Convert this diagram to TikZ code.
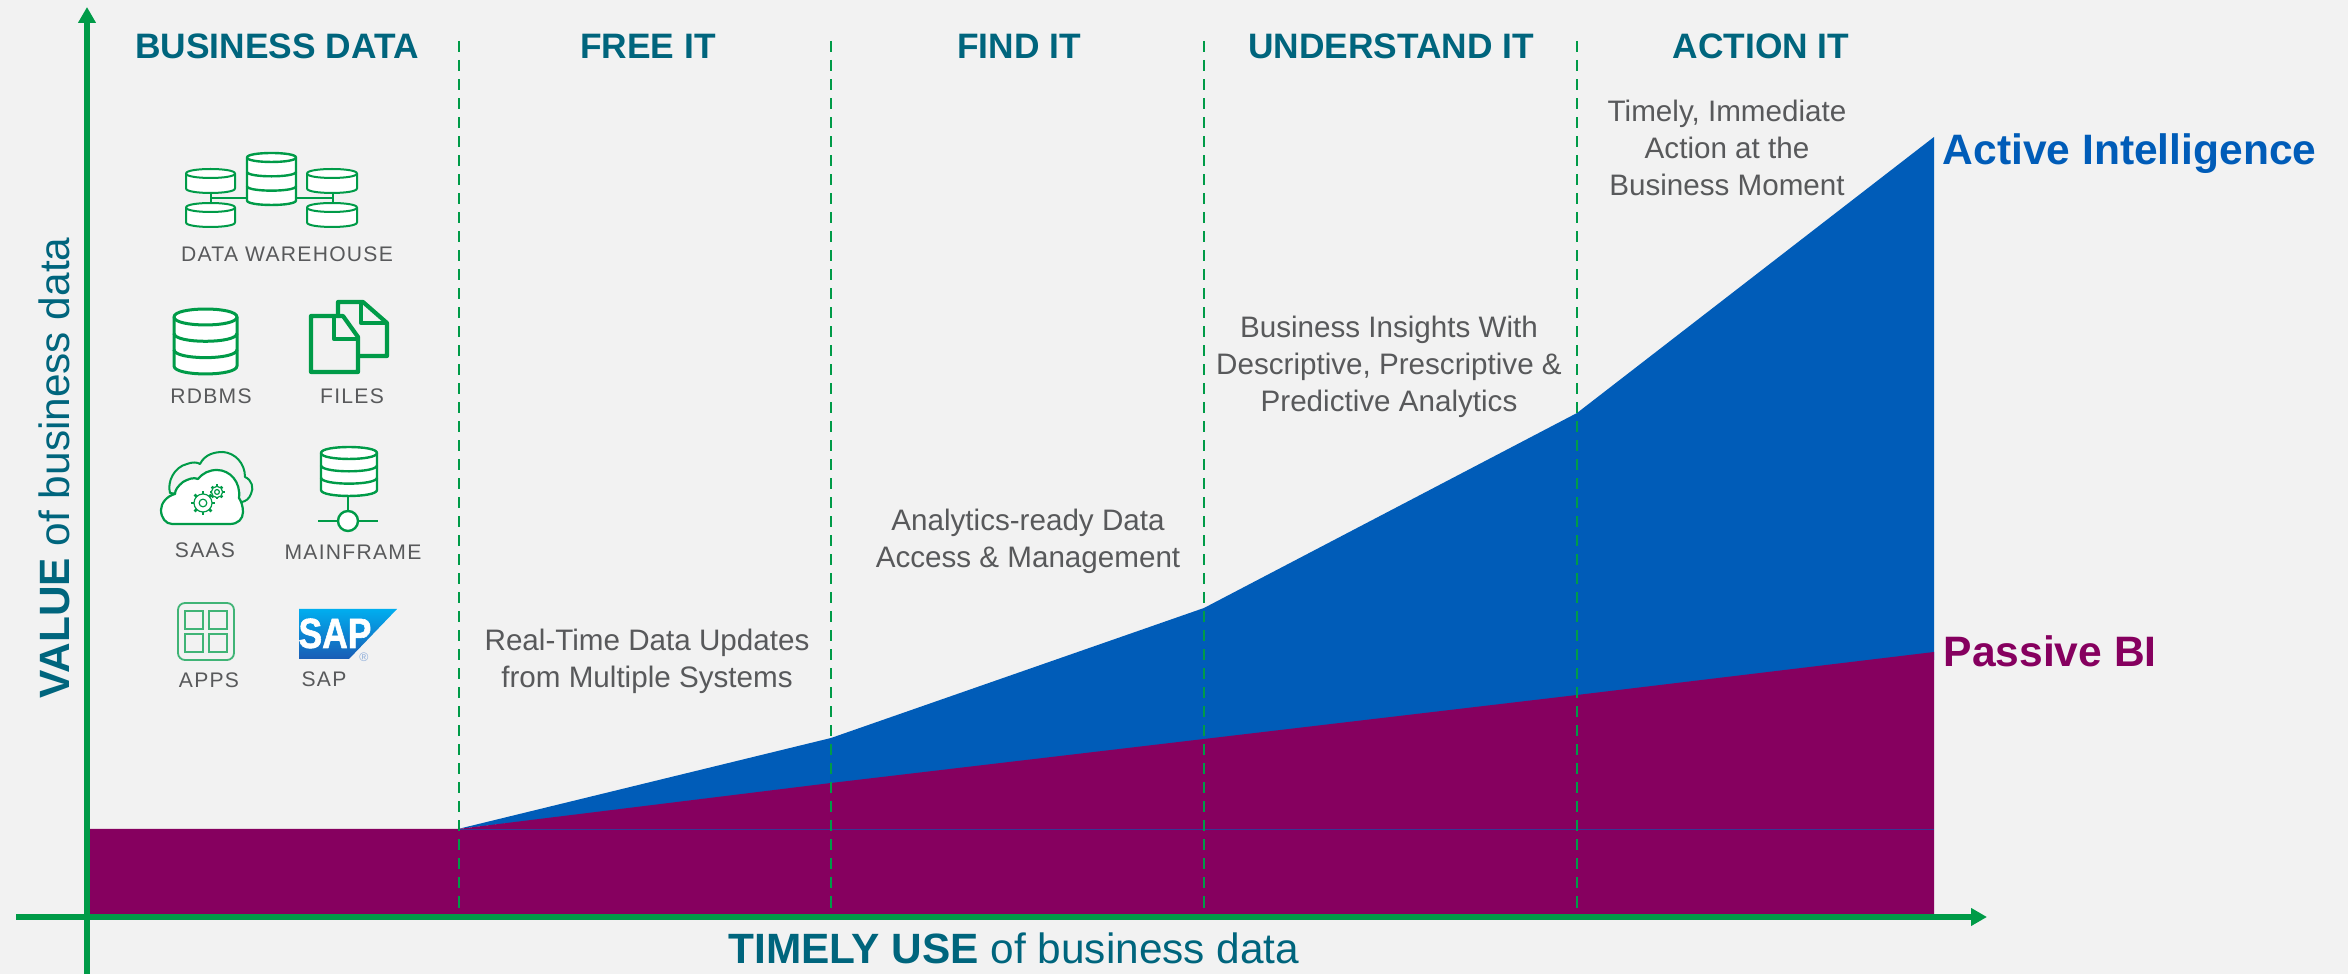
\documentclass[tikz,border=0pt]{standalone}
\usepackage{fontspec}
\usepackage{xcolor}
\usepackage{tikz}
\usetikzlibrary{arrows.meta,positioning}
\setmainfont{Liberation Sans}

\definecolor{pagebg}{HTML}{F2F2F2}
\definecolor{axisgreen}{HTML}{009B48}
\definecolor{headteal}{HTML}{00657D}
\definecolor{notegray}{HTML}{58595B}
\definecolor{activeblue}{HTML}{005CB8}
\definecolor{passivepurple}{HTML}{86005F}
\definecolor{sapcyan}{HTML}{00AEEF}
\definecolor{sapblue}{HTML}{1A5CB5}

\tikzset{
    axisline/.style={draw=axisgreen,line width=0.053cm,-{Triangle[length=0.16cm,width=0.17cm]}},
    divider/.style={draw=axisgreen,line width=0.022cm,dash pattern=on 0.11cm off 0.08cm},
    head/.style={anchor=base,inner sep=0pt,text=headteal,font=\fontsize{10.05}{12}\selectfont\bfseries},
    note/.style={inner sep=0pt,align=center,text=notegray,font=\fontsize{8.42}{10.6}\selectfont},
    iconlabel/.style={anchor=base,inner sep=0pt,text=notegray,font=\fontsize{6}{7}\selectfont\addfontfeature{LetterSpace=6}},
    axislabel/.style={anchor=base,inner sep=0pt,text=headteal,font=\fontsize{12.05}{14}\selectfont},
    legendlabel/.style={inner sep=0pt,anchor=base west,font=\fontsize{12.1}{14}\selectfont\bfseries},
    iconline/.style={draw=axisgreen,line join=round},
}

\newcommand{\dbstack}[7]{
    \pgfmathsetmacro{\yt}{#2+#5}
    \pgfmathsetmacro{\yb}{#4-#5}
    \pgfmathsetmacro{\kk}{1.33*#5}
    \pgfmathsetmacro{\stepy}{(\yb-\yt)/#6}
    \draw[iconline,line width=#7,fill=white] (#1,\yt) -- (#1,\yb) .. controls (#1,\yb+\kk) and (#3,\yb+\kk) .. (#3,\yb) -- (#3,\yt) .. controls (#3,\yt-\kk) and (#1,\yt-\kk) .. cycle;
    \draw[iconline,line width=#7] (#1,\yt) .. controls (#1,\yt+\kk) and (#3,\yt+\kk) .. (#3,\yt);
    \foreach \band in {1,...,#6} {
        \ifnum\band<#6
        \pgfmathsetmacro{\ym}{\yt+\band*\stepy}
        \draw[iconline,line width=#7] (#1,\ym) .. controls (#1,\ym+\kk) and (#3,\ym+\kk) .. (#3,\ym);
        \fi
    }
}

\newcommand{\cogwheel}[3]{
    \foreach \tooth in {0,45,...,315} {
        \draw[iconline,line width=0.025cm] (#1,#2) ++(\tooth:#3*0.72) -- ++(\tooth:#3*0.28);
    }
    \draw[iconline,line width=0.012cm,fill=white] (#1,#2) circle[radius=#3*0.0075cm];
    \draw[iconline,line width=0.012cm] (#1,#2) circle[radius=#3*0.0032cm];
}

\begin{document}
\begin{tikzpicture}[x=0.01cm,y=-0.01cm]
    \useasboundingbox (0,0) rectangle (2348,974);
    \fill[pagebg] (0,0) rectangle (2348,974);

    \fill[activeblue] (458,829) -- (831,738) -- (1204,608) -- (1577,413) -- (1934,137) -- (1934,660) -- (458,829) -- cycle;
    \fill[passivepurple] (87,829) -- (458,829) -- (831,783) -- (1204,739) -- (1577,695) -- (1934,652) -- (1934,917) -- (87,917) -- cycle;
    \draw[activeblue!60!passivepurple,line width=0.005cm] (458,829) -- (1934,829);

    \coordinate (xstart)  at (16,917);
    \coordinate (xend)    at (1987,917);
    \coordinate (ystart)  at (87,974);
    \coordinate (yend)    at (87,7);
    \draw[axisline] (xstart) -- (xend);
    \draw[axisline] (ystart) -- (yend);

    \foreach \xdiv in {459,831,1204,1577} {
        \coordinate (divtop) at (\xdiv,41);
        \coordinate (divbot) at (\xdiv,910);
        \draw[divider] (divtop) -- (divbot);
    }

    \node[head] (bizdata)    at (277,59)  {BUSINESS DATA};
    \node[head] (freeit)     at (648,59)  {FREE IT};
    \node[head] (findit)     at (1019,59) {FIND IT};
    \node[head] (understand) at (1391,59) {UNDERSTAND IT};
    \node[head] (actionit)   at (1761,59) {ACTION IT};

    \node[note] (realtime)  at (647,661)  {Real-Time Data Updates\\from Multiple Systems};
    \node[note] (analytics) at (1028,541) {Analytics-ready Data\\Access \& Management};
    \node[note] (insights)  at (1389,367) {Business Insights With\\Descriptive, Prescriptive \&\\Predictive Analytics};
    \node[note] (timely)    at (1727,148) {Timely, Immediate\\Action at the\\Business Moment};

    \coordinate (activeanchor)  at (1934,165);
    \coordinate (passiveanchor) at (1934,667);
    \node[legendlabel,text=activeblue,right=0.08cm of activeanchor,anchor=base west]     (active)  {Active Intelligence};
    \node[legendlabel,text=passivepurple,right=0.09cm of passiveanchor,anchor=base west] (passive) {Passive BI};

    \node[axislabel] (xtitle) at (1014,964) {\textbf{TIMELY USE} of business data};
    \node[axislabel,rotate=90] (ytitle) at (70,468) {\textbf{VALUE} of business data};

    % data warehouse
    \draw[iconline,line width=0.02cm] (211,193) -- (211,203);
    \draw[iconline,line width=0.02cm] (333,193) -- (333,203);
    \draw[iconline,line width=0.02cm] (211,198) -- (333,198);
    \dbstack{186}{169}{235}{193}{4.5}{1}{0.02cm}
    \dbstack{186}{203}{235}{227}{4.5}{1}{0.02cm}
    \dbstack{307}{169}{357}{193}{4.5}{1}{0.02cm}
    \dbstack{307}{203}{357}{227}{4.5}{1}{0.02cm}
    \dbstack{247}{153}{296}{205}{4.5}{3}{0.024cm}
    \node[iconlabel] (warehouse) at (287,262) {DATA WAREHOUSE};

    % rdbms and files
    \dbstack{174}{309}{237}{374}{8}{3}{0.03cm}
    \node[iconlabel] (rdbms) at (211,404) {RDBMS};
    \draw[iconline,line width=0.042cm] (338,314) -- (338,302) -- (363,302) -- (387,323) -- (387,356) -- (358,356);
    \draw[iconline,line width=0.042cm] (361,303) -- (361,323) -- (387,323);
    \draw[iconline,line width=0.042cm] (311,316) -- (343,316) -- (358,337) -- (358,372) -- (311,372) -- cycle;
    \draw[iconline,line width=0.042cm] (334,317) -- (334,339) -- (358,339);
    \node[iconlabel] (files) at (352,404) {FILES};

    % saas
    \draw[iconline,line width=0.02cm,fill=pagebg] (170,493) .. controls (167,482) and (174,467) .. (187,464) .. controls (192,462) and (197,462) .. (200,464) .. controls (205,454) and (215,452) .. (223,452) .. controls (235,453) and (245,463) .. (245,477) .. controls (252,480) and (254,488) .. (251,494) .. controls (249,499) and (246,501) .. (242,502) -- cycle;
    \draw[iconline,line width=0.022cm,fill=white] (172,524) -- (230,524) .. controls (238,524) and (243,519) .. (243,512) .. controls (243,506) and (241,501) .. (239,498) .. controls (241,482) and (230,470) .. (217,470) .. controls (209,470) and (203,473) .. (198,479) .. controls (194,477) and (188,479) .. (183,482) .. controls (178,486) and (175,490) .. (175,494) .. controls (167,496) and (161,503) .. (161,510) .. controls (161,518) and (166,524) .. (172,524) -- cycle;
    \cogwheel{203}{503}{12}
    \cogwheel{217}{492}{7.5}
    \node[iconlabel] (saas) at (205,558) {SAAS};

    % mainframe
    \draw[iconline,line width=0.022cm] (348,496) -- (348,511);
    \draw[iconline,line width=0.022cm] (318,521) -- (378,521);
    \draw[iconline,line width=0.024cm,fill=white] (348,521) circle[radius=0.1cm];
    \dbstack{321}{447}{377}{496}{6}{3}{0.024cm}
    \node[iconlabel] (mainframe) at (353,560) {MAINFRAME};

    % apps
    \draw[draw=axisgreen!75,line width=0.018cm,rounded corners=0.07cm] (178,603) rectangle (234,660);
    \foreach \xapp in {185,209} {
        \foreach \yapp in {611,634} {
            \draw[draw=axisgreen!75,line width=0.018cm] (\xapp,\yapp) rectangle ++(18,18);
        }
    }
    \node[iconlabel] (apps) at (209,688) {APPS};

    % sap
    \shade[top color=sapcyan,bottom color=sapblue] (299,609) -- (397,609) -- (349,659) -- (299,659) -- cycle;
    \node[anchor=base,inner sep=0pt,text=white,xscale=0.84,font=\fontsize{12}{14}\selectfont\bfseries\addfontfeature{FakeBold=1.5}] (saplogo) at (335,648) {SAP};
    \node[inner sep=0pt,text=sapblue!50,font=\fontsize{3.5}{4}\selectfont] (sapmark) at (364,657) {®};
    \node[iconlabel] (sap) at (324,687) {SAP};
\end{tikzpicture}
\end{document}
